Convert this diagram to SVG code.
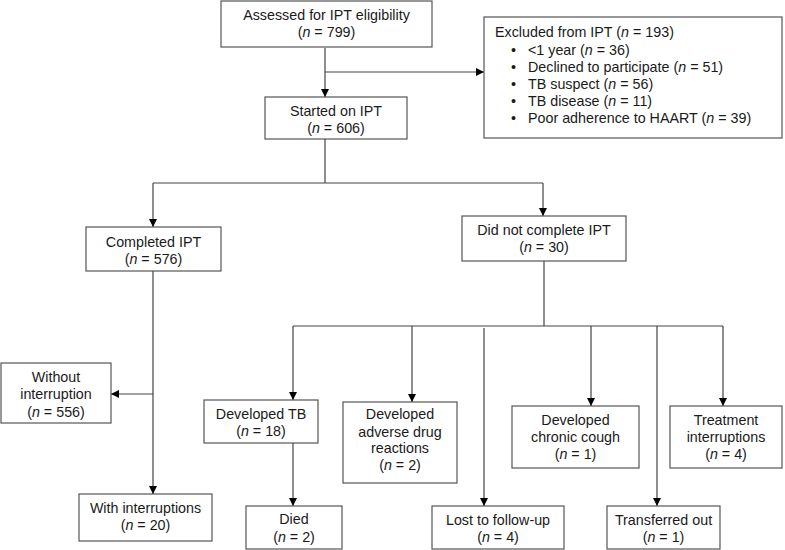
<svg xmlns="http://www.w3.org/2000/svg" width="785" height="550" viewBox="0 0 785 550">
<style>
rect{fill:#fff;stroke:#555;stroke-width:1.2}
text{font-family:"Liberation Sans",Arial,sans-serif;font-size:14.3px;fill:#1a1a1a;text-anchor:middle}
.l{text-anchor:start}
.i{font-style:italic}
#connectors path{fill:none;stroke:#444;stroke-width:1.2}
.a{marker-end:url(#ar)}
</style>
<defs>
<marker id="ar" viewBox="0 0 10 10" refX="10" refY="5" markerWidth="8" markerHeight="8" markerUnits="userSpaceOnUse" orient="auto">
<path d="M0,0 L10,5 L0,10 z" fill="#000"/>
</marker>
</defs>
<g id="connectors">
<path class="a" d="M325,48 V97"/>
<path class="a" d="M325,72 H484"/>
<path d="M325,139 V183 M153,183 H543"/>
<path class="a" d="M153,183 V227"/>
<path class="a" d="M543,183 V216"/>
<path class="a" d="M153,271 V494"/>
<path class="a" d="M153,394 H111"/>
<path d="M544,261 V326 M293,326 H723"/>
<path class="a" d="M293,326 V400"/>
<path class="a" d="M412,326 V402"/>
<path class="a" d="M484,328 V506"/>
<path class="a" d="M591,326 V406"/>
<path class="a" d="M657,326 V506"/>
<path class="a" d="M723,326 V406"/>
<path class="a" d="M293,443 V506"/>
</g>
<g id="assessed">
<rect x="221" y="1" width="211" height="46"/>
<text x="326.5" y="20">Assessed for IPT eligibility</text>
<text x="326.5" y="37">(<tspan class="i">n</tspan> = 799)</text>
</g>
<g id="excluded">
<rect x="484" y="17" width="298" height="121"/>
<text class="l" x="495" y="37">Excluded from IPT (<tspan class="i">n</tspan> = 193)</text>
<text class="l" x="511" y="54.5">•</text><text class="l" x="528" y="54.5">&lt;1 year (<tspan class="i">n</tspan> = 36)</text>
<text class="l" x="511" y="71.5">•</text><text class="l" x="528" y="71.5">Declined to participate (<tspan class="i">n</tspan> = 51)</text>
<text class="l" x="511" y="88.5">•</text><text class="l" x="528" y="88.5">TB suspect (<tspan class="i">n</tspan> = 56)</text>
<text class="l" x="511" y="106">•</text><text class="l" x="528" y="106">TB disease (<tspan class="i">n</tspan> = 11)</text>
<text class="l" x="511" y="123">•</text><text class="l" x="528" y="123">Poor adherence to HAART (<tspan class="i">n</tspan> = 39)</text>
</g>
<g id="started">
<rect x="265" y="97" width="142" height="42"/>
<text x="336" y="115.5">Started on IPT</text>
<text x="336" y="132.5">(<tspan class="i">n</tspan> = 606)</text>
</g>
<g id="completed">
<rect x="86" y="227" width="135" height="44"/>
<text x="153.5" y="247">Completed IPT</text>
<text x="153.5" y="264">(<tspan class="i">n</tspan> = 576)</text>
</g>
<g id="notcompleted">
<rect x="462" y="216" width="164" height="45"/>
<text x="544" y="235">Did not complete IPT</text>
<text x="544" y="252">(<tspan class="i">n</tspan> = 30)</text>
</g>
<g id="without">
<rect x="1" y="363" width="110" height="60"/>
<text x="56" y="382">Without</text>
<text x="56" y="399">interruption</text>
<text x="56" y="416.5">(<tspan class="i">n</tspan> = 556)</text>
</g>
<g id="with">
<rect x="79" y="494" width="133" height="47"/>
<text x="145.5" y="512.5">With interruptions</text>
<text x="145.5" y="529.5">(<tspan class="i">n</tspan> = 20)</text>
</g>
<g id="developedtb">
<rect x="204" y="400" width="114" height="43"/>
<text x="261" y="418.5">Developed TB</text>
<text x="261" y="435.5">(<tspan class="i">n</tspan> = 18)</text>
</g>
<g id="died">
<rect x="246" y="506" width="96" height="43"/>
<text x="294" y="524">Died</text>
<text x="294" y="541.5">(<tspan class="i">n</tspan> = 2)</text>
</g>
<g id="adverse">
<rect x="343" y="402" width="114" height="81"/>
<text x="400" y="419">Developed</text>
<text x="400" y="436.5">adverse drug</text>
<text x="400" y="453">reactions</text>
<text x="400" y="470">(<tspan class="i">n</tspan> = 2)</text>
</g>
<g id="lost">
<rect x="432" y="506" width="132" height="43"/>
<text x="498" y="525">Lost to follow-up</text>
<text x="498" y="542">(<tspan class="i">n</tspan> = 4)</text>
</g>
<g id="cough">
<rect x="512" y="406" width="127" height="62"/>
<text x="575.5" y="425">Developed</text>
<text x="575.5" y="442">chronic cough</text>
<text x="575.5" y="458.5">(<tspan class="i">n</tspan> = 1)</text>
</g>
<g id="transferred">
<rect x="607" y="506" width="113" height="43"/>
<text x="663.5" y="525">Transferred out</text>
<text x="663.5" y="542">(<tspan class="i">n</tspan> = 1)</text>
</g>
<g id="treatment">
<rect x="670" y="406" width="112" height="62"/>
<text x="726" y="425">Treatment</text>
<text x="726" y="442">interruptions</text>
<text x="726" y="458.5">(<tspan class="i">n</tspan> = 4)</text>
</g>
</svg>
